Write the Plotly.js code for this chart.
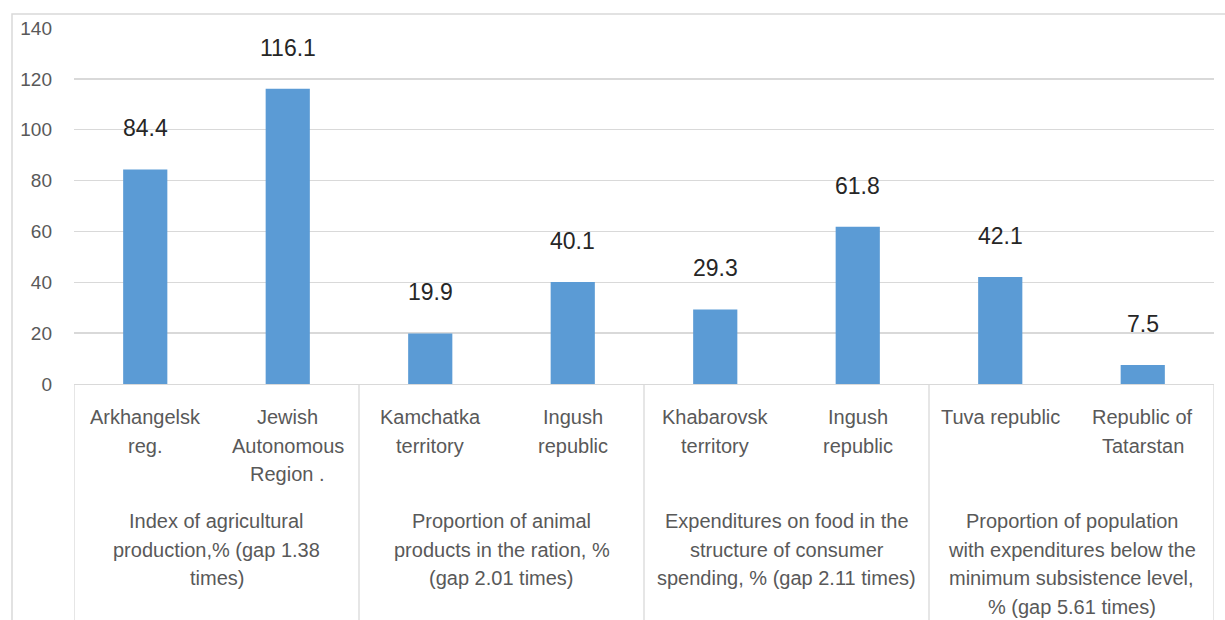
<!DOCTYPE html>
<html>
<head>
<meta charset="utf-8">
<script src="https://cdn.plot.ly/plotly-3.0.1.min.js"></script>
<style>html,body{margin:0;padding:0;background:#fff;}#chart{width:1225px;height:620px;}</style>
</head>
<body>
<div id="chart"></div>
<script>
// ---- data ----
const regions = [
  "Arkhangelsk<br>reg.",
  "Jewish<br>Autonomous<br>Region .",
  "Kamchatka<br>territory",
  "Ingush<br>republic",
  "Khabarovsk<br>territory",
  "Ingush<br>republic",
  "Tuva republic",
  "Republic of<br>Tatarstan"
];
const values = [84.4, 116.1, 19.9, 40.1, 29.3, 61.8, 42.1, 7.5];
const groups = [
  "Index of agricultural<br>production,% (gap 1.38<br>times)",
  "Proportion of animal<br>products in the ration, %<br>(gap 2.01 times)",
  "Expenditures on food in the<br>structure of consumer<br>spending, % (gap 2.11 times)",
  "Proportion of population<br>with expenditures below the<br>minimum subsistence level,<br>% (gap 5.61 times)"
];
const groupSizes = [2, 2, 2, 2];
const yTicks = [0, 20, 40, 60, 80, 100, 120, 140];

// ---- layout helpers ----
const W = 1225, H = 620;
const mL = 74, mR = 11, mT = 28, mB = 236;
const plotH = H - mT - mB;
const FONT = "Liberation Sans, Arial, sans-serif";
const GRID = "#d9d9d9";
const TXT = "#595959";

const xIdx = regions.map((_, i) => i);

const annotations = [];
const shapes = [];

// value labels
values.forEach((v, i) => {
  annotations.push({
    x: xIdx[i], y: v, xref: "x", yref: "y",
    text: v.toFixed(1), showarrow: false,
    yanchor: "middle", yshift: 41,
    font: {family: FONT, size: 23, color: "#262626"}
  });
});

// region labels (line by line)
regions.forEach((lab, i) => {
  lab.split("<br>").forEach((line, k) => {
    annotations.push({
      x: xIdx[i], y: 0, xref: "x", yref: "paper",
      text: line, showarrow: false,
      yanchor: "middle", yshift: -(417 - (H - mB)) - k * 28.5,
      font: {family: FONT, size: 20, color: TXT}
    });
  });
});

// group labels and dividers
let start = 0;
const dividers = [-0.5];
groups.forEach((g, gi) => {
  const n = groupSizes[gi];
  const center = start + (n - 1) / 2;
  g.split("<br>").forEach((line, k) => {
    annotations.push({
      x: center, y: 0, xref: "x", yref: "paper",
      text: line, showarrow: false,
      yanchor: "middle", yshift: -(521 - (H - mB)) - k * 28.5,
      font: {family: FONT, size: 20, color: TXT}
    });
  });
  start += n;
  dividers.push(start - 0.5);
});
dividers.forEach(d => {
  shapes.push({
    type: "line", xref: "x", yref: "paper",
    x0: d, x1: d, y0: 0, y1: -(mB + 10) / plotH,
    line: {color: GRID, width: 1.3}
  });
});

// outer chart border
shapes.push({
  type: "rect", xref: "paper", yref: "paper",
  x0: (12 - mL) / (W - mL - mR), x1: 1.2,
  y0: -1.5, y1: (H - mB - 14) / plotH,
  line: {color: GRID, width: 1.5}, fillcolor: "rgba(0,0,0,0)"
});

const trace = {
  type: "bar",
  x: xIdx,
  y: values,
  marker: {color: "#5b9bd5"},
  hoverinfo: "skip"
};

const layout = {
  width: W, height: H,
  margin: {l: mL, r: mR, t: mT, b: mB},
  paper_bgcolor: "#fff", plot_bgcolor: "#fff",
  showlegend: false,
  bargap: 0.69,
  xaxis: {
    range: [-0.5, regions.length - 0.5],
    showticklabels: false, showgrid: false, zeroline: false,
    showline: true, linecolor: GRID, linewidth: 1.3,
    fixedrange: true
  },
  yaxis: {
    range: [0, 140],
    tickvals: yTicks, ticktext: yTicks.map(String),
    showgrid: true, gridcolor: GRID, gridwidth: 1.3,
    zeroline: false, showline: false, ticks: "",
    ticklabelstandoff: 21,
    tickfont: {family: FONT, size: 19, color: TXT},
    fixedrange: true
  },
  annotations: annotations,
  shapes: shapes
};

Plotly.newPlot("chart", [trace], layout, {staticPlot: true, displayModeBar: false});
</script>
</body>
</html>
